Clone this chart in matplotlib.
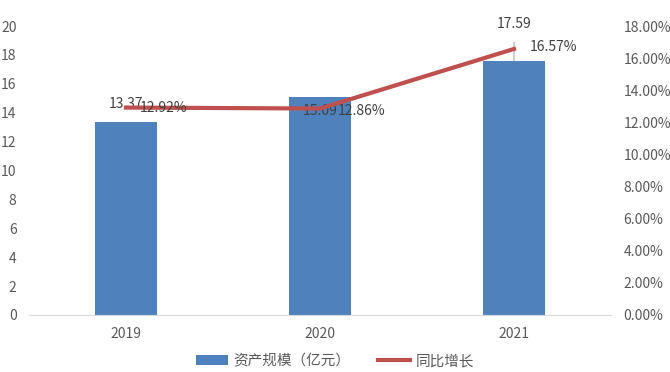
import matplotlib
matplotlib.use("Agg")
import matplotlib.pyplot as plt
from matplotlib.ticker import FuncFormatter

plt.rcParams['font.family'] = ['Noto Sans CJK SC', 'DejaVu Sans']

years = ["2019", "2020", "2021"]
assets = [13.37, 15.09, 17.59]
growth = [12.92, 12.86, 16.57]

bar_color = "#4F81BD"
line_color = "#C0504D"
text_color = "#595959"
label_color = "#404040"

fig = plt.figure(figsize=(6.7, 3.72), dpi=100)
ax = fig.add_axes([29/670, 57/372, 582/670, 289/372])
x = list(range(len(years)))
bars = ax.bar(x, assets, width=0.315, color=bar_color, label="资产规模（亿元）", zorder=2)
ax.set_xlim(-0.5, 2.5)
ax.set_ylim(0, 20)
ax.set_yticks(range(0, 21, 2))
ax.set_xticks(x)
ax.set_xticklabels(years)
for s in ["top", "right", "left"]:
    ax.spines[s].set_visible(False)
ax.spines["bottom"].set_color("#D9D9D9")
ax.tick_params(axis="both", length=0, colors=text_color, labelsize=10)
ax.tick_params(axis="y", pad=9)
ax.tick_params(axis="x", pad=9)

ax2 = ax.twinx()
ax2.set_ylim(0, 18)
ax2.set_yticks(range(0, 19, 2))
ax2.yaxis.set_major_formatter(FuncFormatter(lambda v, p: f"{v:.2f}%"))
for s in ["top", "right", "left", "bottom"]:
    ax2.spines[s].set_visible(False)
ax2.tick_params(axis="y", length=0, colors=text_color, labelsize=10, pad=9)
line, = ax2.plot(x, growth, color=line_color, linewidth=3, label="同比增长", zorder=3)

# bar labels
ax.text(0, assets[0] + 1.2, f"{assets[0]:.2f}", ha="center", va="center", color=label_color, fontsize=10, zorder=5)
ax.text(1, assets[1] - 0.95, f"{assets[1]:.2f}", ha="center", va="center", color=label_color, fontsize=10, zorder=5)
ax.annotate(f"{assets[2]:.2f}", xy=(2, assets[2]), xytext=(2, assets[2] + 2.55),
            ha="center", va="center", color=label_color, fontsize=10, zorder=5,
            arrowprops=dict(arrowstyle="-", color="#A6A6A6", lw=0.8, shrinkA=6, shrinkB=0))

# line labels
ax2.text(0.07, growth[0], f"{growth[0]:.2f}%", ha="left", va="center", color=label_color, fontsize=10, zorder=5)
ax2.text(1.09, growth[1] - 0.15, f"{growth[1]:.2f}%", ha="left", va="center", color=label_color, fontsize=10, zorder=5)
ax2.text(2.08, growth[2] + 0.15, f"{growth[2]:.2f}%", ha="left", va="center", color=label_color, fontsize=10, zorder=5)

fig.legend(handles=[bars, line], labels=["资产规模（亿元）", "同比增长"], loc="lower center",
           bbox_to_anchor=(0.5, -0.025), ncol=2, frameon=False, fontsize=10.5,
           labelcolor=text_color, handlelength=2.2, handleheight=0.6, columnspacing=1.9, handletextpad=0.35)

fig.savefig("out.png", dpi=100)
